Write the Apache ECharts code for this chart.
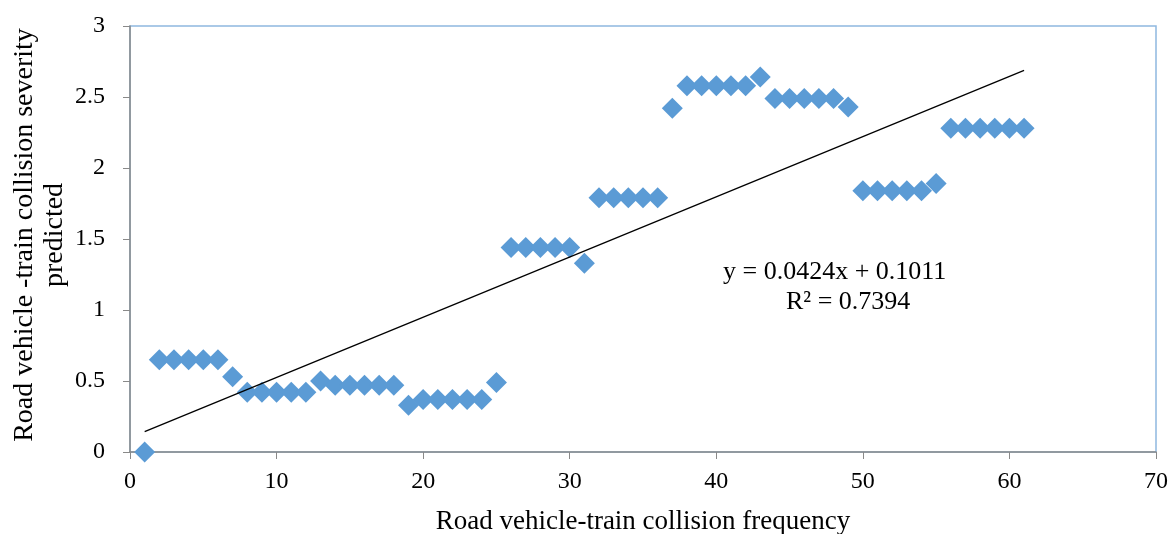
<!DOCTYPE html>
<html>
<head>
<meta charset="utf-8">
<script src="https://cdn.jsdelivr.net/npm/echarts@6/dist/echarts.min.js"></script>
<style>
html,body{margin:0;padding:0;background:#fff;}
#chart{width:1171px;height:534px;}
</style>
</head>
<body>
<div id="chart"></div>
<script>
// collision frequency (x) and predicted severity (y)
var freq = [];
for (var i = 1; i <= 61; i++) { freq.push(i); }
var severity = [
	0.00, 0.65, 0.65, 0.65, 0.65, 0.65, 0.53, 0.42, 0.42, 0.42,
	0.42, 0.42, 0.50, 0.47, 0.47, 0.47, 0.47, 0.47, 0.33, 0.37,
	0.37, 0.37, 0.37, 0.37, 0.49, 1.44, 1.44, 1.44, 1.44, 1.44,
	1.33, 1.79, 1.79, 1.79, 1.79, 1.79, 2.42, 2.58, 2.58, 2.58,
	2.58, 2.58, 2.64, 2.49, 2.49, 2.49, 2.49, 2.49, 2.43, 1.84,
	1.84, 1.84, 1.84, 1.84, 1.89, 2.28, 2.28, 2.28, 2.28, 2.28,
	2.28
];
// linear trend line end points
var trendX = [1, 61];
var trendY = [0.1435, 2.6875];
var eqText = ['y = 0.0424x + 0.1011', 'R² = 0.7394'];
var yTitle = 'Road vehicle -train collision severity\npredicted';

var pts = [];
for (var k = 0; k < freq.length; k++) { pts.push([freq[k], severity[k]]); }
var trend = [[trendX[0], trendY[0]], [trendX[1], trendY[1]]];

var font = 'Liberation Serif, Times New Roman, serif';
var myChart = echarts.init(document.getElementById('chart'));
var option = {
	backgroundColor: '#fff',
	animation: false,
	grid: {
		left: 130, right: 15, top: 26, bottom: 82,
		containLabel: false, outerBoundsMode: 'none',
		show: true, borderColor: '#8fb8e0', borderWidth: 1.5
	},
	xAxis: {
		type: 'value', min: 0, max: 70, interval: 10,
		name: 'Road vehicle-train collision frequency',
		nameLocation: 'middle', nameGap: 56,
		nameTextStyle: { fontFamily: font, fontSize: 27, color: '#000' },
		axisLine: { show: true, onZero: false, lineStyle: { color: '#898989', width: 1.5 } },
		axisTick: { show: true, length: 7, lineStyle: { color: '#898989' } },
		axisLabel: { fontFamily: font, fontSize: 24, color: '#000', margin: 18 },
		splitLine: { show: false }
	},
	yAxis: {
		type: 'value', min: 0, max: 3, interval: 0.5,
		axisLine: { show: true, lineStyle: { color: '#898989', width: 1.5 } },
		axisTick: { show: true, length: 7, lineStyle: { color: '#898989' } },
		axisLabel: { fontFamily: font, fontSize: 24, color: '#000', margin: 25 },
		splitLine: { show: false }
	},
	graphic: [
		{
			type: 'text', x: 40, y: 235, rotation: Math.PI / 2,
			style: { text: yTitle, font: '28px ' + font, fill: '#000', align: 'center', verticalAlign: 'middle', lineHeight: 30 }
		},
		{ type: 'text', left: 723, top: 259, style: { text: eqText[0], font: '26px ' + font, fill: '#000' } },
		{ type: 'text', left: 786, top: 289, style: { text: eqText[1], font: '26px ' + font, fill: '#000' } }
	],
	series: [
		{
			type: 'line', data: trend, showSymbol: false, silent: true,
			lineStyle: { color: '#000', width: 1.3 }, z: 3
		},
		{
			type: 'scatter', data: pts, symbol: 'diamond', symbolSize: 21,
			itemStyle: { color: '#5b9bd5', opacity: 1 }, z: 2
		}
	]
};
myChart.setOption(option);
</script>
</body>
</html>
